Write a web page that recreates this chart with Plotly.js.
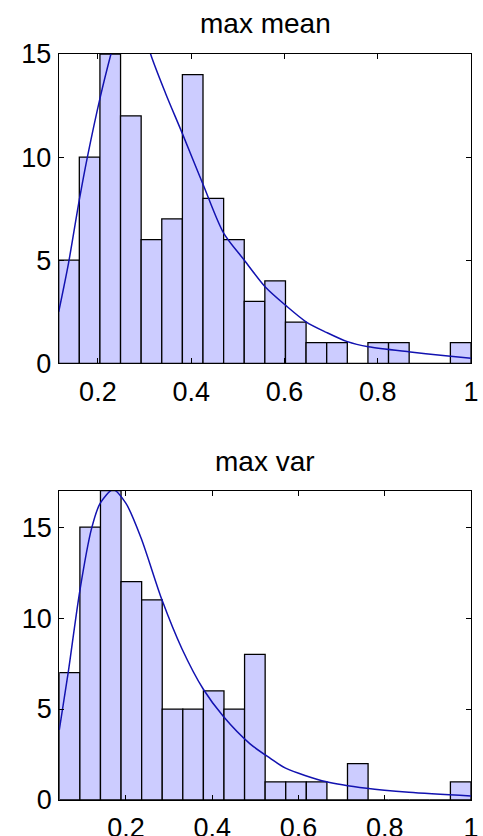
<!DOCTYPE html>
<html>
<head>
<meta charset="utf-8">
<script src="https://cdn.plot.ly/plotly-3.0.1.min.js"></script>
<style>html,body{margin:0;padding:0;background:#fff;}#chart{width:483px;height:836px;}</style>
</head>
<body>
<div id="chart"></div>
<script>
// ---- Data ----
const titles = ["max mean", "max var"];

// histogram 1: "max mean" (20 bins between meanMin and meanMax)
const meanMin = 0.116;
const meanMax = 1.0;
const meanCounts = [5, 10, 15, 12, 6, 7, 14, 8, 6, 3, 4, 2, 1, 1, 0, 1, 1, 0, 0, 1];
const meanFitX = [0.116, 0.137, 0.160, 0.1775, 0.205, 0.228, 0.245, 0.262, 0.278, 0.295, 0.313, 0.345, 0.381, 0.426, 0.470, 0.514, 0.559, 0.603, 0.647, 0.690, 0.735, 0.780, 0.870, 0.940, 1.0];
const meanFitY = [2.5, 4.85, 7.9, 10.0, 12.9, 15.0, 16.4, 17.2, 17.3, 16.5, 15.0, 13.1, 11.15, 8.65, 6.3, 5.0, 3.7, 2.8, 2.0, 1.5, 1.05, 0.8, 0.55, 0.38, 0.24];

// histogram 2: "max var"
const varMin = 0.0454;
const varMax = 1.0;
const varCounts = [7, 15, 17, 12, 11, 5, 5, 6, 5, 8, 1, 1, 1, 0, 2, 0, 0, 0, 0, 1];
const varFitX = [0.0454, 0.066, 0.093, 0.12, 0.14, 0.17, 0.20, 0.235, 0.2834, 0.33, 0.379, 0.4255, 0.487, 0.534, 0.57, 0.665, 0.758, 0.856, 1.0];
const varFitY = [3.85, 7.0, 11.5, 14.9, 16.3, 17.05, 16.3, 14.4, 11.0, 8.3, 6.1, 4.6, 3.1, 2.3, 1.75, 1.0, 0.64, 0.42, 0.22];

const xTickVals = [0.2, 0.4, 0.6, 0.8, 1];
const xTickText = ["0.2", "0.4", "0.6", "0.8", "1"];
const yTickVals1 = [0, 5, 10, 15];
const yTickVals2 = [0, 5, 10, 15];
const yMax1 = 15;
const yMax2 = 17;

// ---- build bins ----
function bins(lo, hi, counts) {
  const n = counts.length, w = (hi - lo) / n, centers = [];
  for (let i = 0; i < n; i++) centers.push(lo + (i + 0.5) * w);
  return {centers, w};
}
const b1 = bins(meanMin, meanMax, meanCounts);
const b2 = bins(varMin, varMax, varCounts);

const barStyle = {color: "#ccccff", line: {color: "#000", width: 1.3}};
const fitStyle = {color: "#1212b0", width: 1.5, shape: "spline", smoothing: 0.8};

const traces = [
  {type: "bar", x: b1.centers, y: meanCounts, width: b1.w, marker: barStyle, xaxis: "x", yaxis: "y", hoverinfo: "skip"},
  {type: "scatter", mode: "lines", x: meanFitX, y: meanFitY, line: fitStyle, xaxis: "x", yaxis: "y", hoverinfo: "skip"},
  {type: "bar", x: b2.centers, y: varCounts, width: b2.w, marker: barStyle, xaxis: "x2", yaxis: "y2", hoverinfo: "skip"},
  {type: "scatter", mode: "lines", x: varFitX, y: varFitY, line: fitStyle, xaxis: "x2", yaxis: "y2", hoverinfo: "skip"}
];

const font = {family: "Liberation Sans, Arial, Helvetica, sans-serif", size: 27, color: "#000"};
function xa(lo, hi, anchor, dom) {
  return {range: [lo, hi], domain: dom, anchor: anchor, tickvals: xTickVals, ticktext: xTickText,
    ticks: "inside", ticklen: 5, tickcolor: "#000", tickwidth: 1, showline: true, linecolor: "#000", linewidth: 1,
    mirror: "allticks", showgrid: false, zeroline: false, automargin: false, tickfont: font, ticklabelstandoff: 4, fixedrange: true};
}
function ya(hi, tv, anchor, dom) {
  return {range: [0, hi], domain: dom, anchor: anchor, tickvals: tv,
    ticks: "inside", ticklen: 5, tickcolor: "#000", tickwidth: 1, showline: true, linecolor: "#000", linewidth: 1,
    mirror: "allticks", showgrid: false, zeroline: false, automargin: false, tickfont: font, ticklabelstandoff: 1, fixedrange: true};
}

const W = 483, H = 836;
const xd = [58.7 / W, 471 / W];
const xd2 = [59.3 / W, 471 / W];
const yd1 = [1 - 363.3 / H, 1 - 54 / H];
const yd2 = [1 - 800 / H, 1 - 490.7 / H];

const layout = {
  width: W, height: H,
  margin: {l: 0, r: 0, t: 0, b: 0},
  paper_bgcolor: "#fff", plot_bgcolor: "#fff",
  showlegend: false, bargap: 0,
  font: font,
  xaxis: xa(meanMin, meanMax, "y", xd),
  yaxis: ya(yMax1, yTickVals1, "x", yd1),
  xaxis2: xa(varMin, varMax, "y2", xd2),
  yaxis2: ya(yMax2, yTickVals2, "x2", yd2),
  annotations: [
    {text: titles[0], xref: "paper", yref: "paper", x: 265 / W, y: 1 - 23 / H, xanchor: "center", yanchor: "middle", showarrow: false, font: {family: font.family, size: 28, color: "#000"}},
    {text: titles[1], xref: "paper", yref: "paper", x: 265 / W, y: 1 - 461 / H, xanchor: "center", yanchor: "middle", showarrow: false, font: {family: font.family, size: 28, color: "#000"}}
  ]
};

Plotly.newPlot("chart", traces, layout, {displayModeBar: false, staticPlot: true});
</script>
</body>
</html>
